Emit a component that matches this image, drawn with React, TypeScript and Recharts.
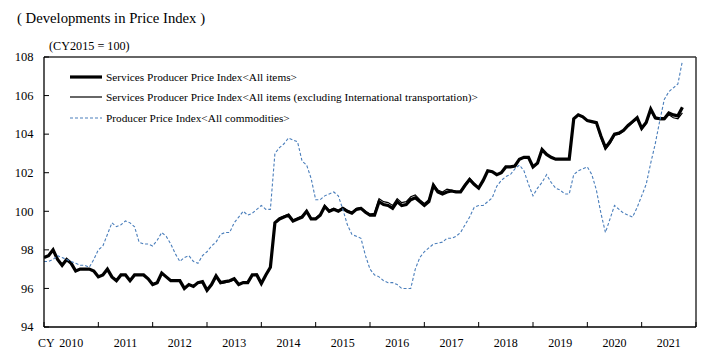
import { LineChart, Line, XAxis, YAxis, ReferenceLine, Legend } from "recharts"

// monthly, Jan 2010 .. Oct 2021 (CY2015 = 100)
const years = ["2010", "2011", "2012", "2013", "2014", "2015", "2016", "2017", "2018", "2019", "2020", "2021"]

const sppiAll = [
  97.6, 97.7, 98.0, 97.5, 97.2, 97.5, 97.3, 96.9, 97.0, 97.0, 97.0, 96.9,
  96.6, 96.7, 97.0, 96.6, 96.4, 96.7, 96.7, 96.4, 96.7, 96.7, 96.7, 96.5,
  96.2, 96.3, 96.8, 96.6, 96.4, 96.4, 96.4, 96.0, 96.2, 96.1, 96.3, 96.35,
  95.9, 96.2, 96.65, 96.3, 96.35, 96.4, 96.5, 96.2, 96.3, 96.3, 96.7, 96.7,
  96.25, 96.7, 97.1, 99.4, 99.6, 99.7, 99.8, 99.5, 99.6, 99.7, 100.0, 99.6,
  99.6, 99.8, 100.25, 100.0, 100.1, 100.0, 100.15, 100.0, 99.9, 100.1, 100.15, 99.95,
  99.8, 99.8, 100.5, 100.35, 100.3, 100.15, 100.5, 100.3, 100.35, 100.6, 100.7, 100.5,
  100.3, 100.5, 101.35, 101.0, 100.9, 101.0, 101.05, 101.0, 101.0, 101.35, 101.65, 101.4,
  101.2, 101.6, 102.1, 102.05, 101.9, 102.0, 102.3, 102.3, 102.35, 102.7, 102.8, 102.8,
  102.3, 102.5, 103.2, 102.95, 102.8, 102.7, 102.7, 102.7, 102.7, 104.8, 105.0, 104.9,
  104.7, 104.65, 104.6, 103.9, 103.3, 103.6, 104.0, 104.05, 104.2, 104.45, 104.65, 104.85,
  104.3, 104.6, 105.3, 104.85, 104.8, 104.8, 105.1, 105.0, 104.95, 105.4,
]

const sppiExIntl = [
  97.6, 97.7, 98.0, 97.5, 97.2, 97.5, 97.3, 96.9, 97.0, 97.0, 97.0, 96.9,
  96.6, 96.7, 97.0, 96.6, 96.4, 96.7, 96.7, 96.4, 96.7, 96.7, 96.7, 96.5,
  96.2, 96.3, 96.8, 96.6, 96.4, 96.4, 96.4, 96.0, 96.2, 96.1, 96.3, 96.35,
  95.9, 96.2, 96.6, 96.25, 96.3, 96.35, 96.45, 96.2, 96.3, 96.35, 96.7, 96.75,
  96.3, 96.7, 97.1, 99.4, 99.65, 99.75, 99.85, 99.55, 99.65, 99.75, 100.05, 99.65,
  99.65, 99.85, 100.3, 100.05, 100.15, 100.05, 100.2, 100.05, 99.95, 100.15, 100.2, 100.0,
  99.85, 99.9, 100.65, 100.5, 100.45, 100.3, 100.65, 100.45, 100.5, 100.75, 100.85, 100.6,
  100.4, 100.6, 101.4, 101.1, 101.0, 101.15, 101.1, 101.05, 101.05, 101.4, 101.7, 101.45,
  101.2, 101.6, 102.1, 102.05, 101.9, 102.0, 102.3, 102.3, 102.35, 102.7, 102.8, 102.8,
  102.3, 102.5, 103.2, 102.95, 102.8, 102.7, 102.7, 102.7, 102.7, 104.8, 105.0, 104.9,
  104.7, 104.65, 104.55, 103.8, 103.2, 103.5, 103.95, 104.0, 104.15, 104.4, 104.6, 104.8,
  104.25, 104.55, 105.2, 104.8, 104.75, 104.75, 105.0, 104.85, 104.8, 105.1,
]

const ppiAll = [
  97.4, 97.4, 97.5, 97.7, 97.6, 97.5, 97.4, 97.3, 97.2, 97.2, 97.1, 97.5,
  98.0, 98.2, 98.8, 99.4, 99.2, 99.3, 99.5, 99.4, 99.2, 98.4, 98.3, 98.3,
  98.2, 98.5, 98.9, 98.7, 98.3, 97.8, 97.4, 97.6, 97.7, 97.4, 97.3, 97.7,
  97.9, 98.2, 98.4, 98.8, 98.9, 98.9, 99.4, 99.7, 100.0, 99.8, 99.9, 100.1,
  100.3, 100.1, 100.1, 103.0, 103.3, 103.5, 103.8, 103.7, 103.6, 102.6, 102.4, 101.7,
  100.6, 100.6, 100.8, 100.9, 101.0, 100.8, 100.1, 99.3, 98.8, 98.7, 98.6, 97.7,
  97.0, 96.7, 96.6, 96.4, 96.3, 96.3, 96.2, 96.0, 96.0, 96.0, 97.0, 97.6,
  97.9, 98.1, 98.3, 98.35, 98.4, 98.6, 98.6, 98.7, 98.9, 99.3, 99.7, 100.2,
  100.3, 100.3, 100.5, 100.7, 101.3, 101.6, 101.8, 101.9, 102.2, 102.4, 102.1, 101.4,
  100.8, 101.2, 101.5, 101.9, 101.5, 101.2, 101.1, 100.9, 100.9, 101.9, 102.1, 102.2,
  102.3, 101.9, 101.1, 99.9, 98.9, 99.6, 100.3, 100.1, 99.9, 99.8, 99.7, 100.2,
  100.8, 101.4, 102.5, 103.5, 104.7, 105.8, 106.2, 106.4, 106.6, 107.8,
]

const yTicks = [94, 96, 98, 100, 102, 104, 106, 108]

const data = ppiAll.map((v, i) => ({
  i,
  sppiAll: sppiAll[i],
  sppiExIntl: sppiExIntl[i],
  ppiAll: v,
}))

const W = 709
const H = 358
const margin = { top: 57, right: 13, left: 0, bottom: 0 }
const yAxisW = 44
const plotW = W - yAxisW - margin.right
const halfYear = plotW / 24
const serif = "'Liberation Serif', 'Times New Roman', serif"

const YearTick = (props: any) => {
  const { x, y, payload } = props
  const k = payload.value / 12
  if (k >= years.length) return null
  return (
    <g>
      {k === 0 && (
        <text x={x - 6} y={y + 19.5} fontSize={12} fontFamily={serif} fill="#000" textAnchor="start">CY</text>
      )}
      <text x={x + halfYear} y={y + 19.5} fontSize={12} fontFamily={serif} fill="#000" textAnchor="middle">
        {years[k]}
      </text>
    </g>
  )
}

const ValueTick = (props: any) => {
  const { x, y, payload } = props
  return (
    <text x={x - 10.5} y={y + 4.3} fontSize={12.5} fontFamily={serif} fill="#000" textAnchor="end">
      {payload.value}
    </text>
  )
}

const legendItems = [
  { label: "Services Producer Price Index<All items>", stroke: "#000", width: 3.2, dash: undefined },
  { label: "Services Producer Price Index<All items (excluding International transportation)>", stroke: "#000", width: 1.2, dash: undefined },
  { label: "Producer Price Index<All commodities>", stroke: "#4a7ebb", width: 1.1, dash: "3 2" },
]

const LegendBox = () => (
  <div style={{ fontFamily: serif, fontSize: 11.3, color: "#000" }}>
    {legendItems.map((it) => (
      <div key={it.label} style={{ display: "flex", alignItems: "center", height: 20.3, whiteSpace: "nowrap" }}>
        <svg width={33} height={8} style={{ marginRight: 3 }}>
          <line x1={0} y1={4} x2={32} y2={4} stroke={it.stroke} strokeWidth={it.width} strokeDasharray={it.dash} />
        </svg>
        <span>{it.label}</span>
      </div>
    ))}
  </div>
)

export default function App() {
  return (
    <div style={{ position: "absolute", left: 0, top: 0, width: W, height: H, background: "#fff" }}>
      <div style={{ position: "absolute", left: 17, top: 11, fontFamily: serif, fontSize: 14.7, lineHeight: 1, whiteSpace: "nowrap" }}>
        ( Developments in Price Index )
      </div>
      <div style={{ position: "absolute", left: 49, top: 40.3, fontFamily: serif, fontSize: 12.2, lineHeight: 1, whiteSpace: "nowrap" }}>
        (CY2015 = 100)
      </div>
      <LineChart width={W} height={H} data={data} margin={margin}>
        <XAxis
          dataKey="i"
          type="number"
          domain={[0, 144]}
          ticks={[0, 12, 24, 36, 48, 60, 72, 84, 96, 108, 120, 132, 144]}
          tick={<YearTick />}
          tickSize={-5}
          tickMargin={5}
          height={31}
          axisLine={{ stroke: "#000", strokeWidth: 1.3 }}
          tickLine={{ stroke: "#000" }}
          interval={0}
          allowDataOverflow
        />
        <YAxis
          domain={[94, 108]}
          ticks={yTicks}
          tick={<ValueTick />}
          tickSize={-5}
          tickMargin={5}
          width={yAxisW}
          axisLine={{ stroke: "#000", strokeWidth: 1.3 }}
          tickLine={{ stroke: "#000" }}
          interval={0}
          allowDataOverflow
        />
        <ReferenceLine y={108} stroke="#333" strokeWidth={1.5} />
        <ReferenceLine x={144} stroke="#333" strokeWidth={1.5} />
        <Legend
          layout="vertical"
          align="center"
          verticalAlign="middle"
          content={<LegendBox />}
          wrapperStyle={{ left: 70, top: 67, width: "auto" }}
        />
        <Line type="linear" dataKey="sppiAll" stroke="#000" strokeWidth={3.2} dot={false} isAnimationActive={false} />
        <Line type="linear" dataKey="sppiExIntl" stroke="#000" strokeWidth={1.2} dot={false} isAnimationActive={false} />
        <Line type="linear" dataKey="ppiAll" stroke="#4a7ebb" strokeWidth={1.1} strokeDasharray="3 2" dot={false} isAnimationActive={false} />
      </LineChart>
    </div>
  )
}
